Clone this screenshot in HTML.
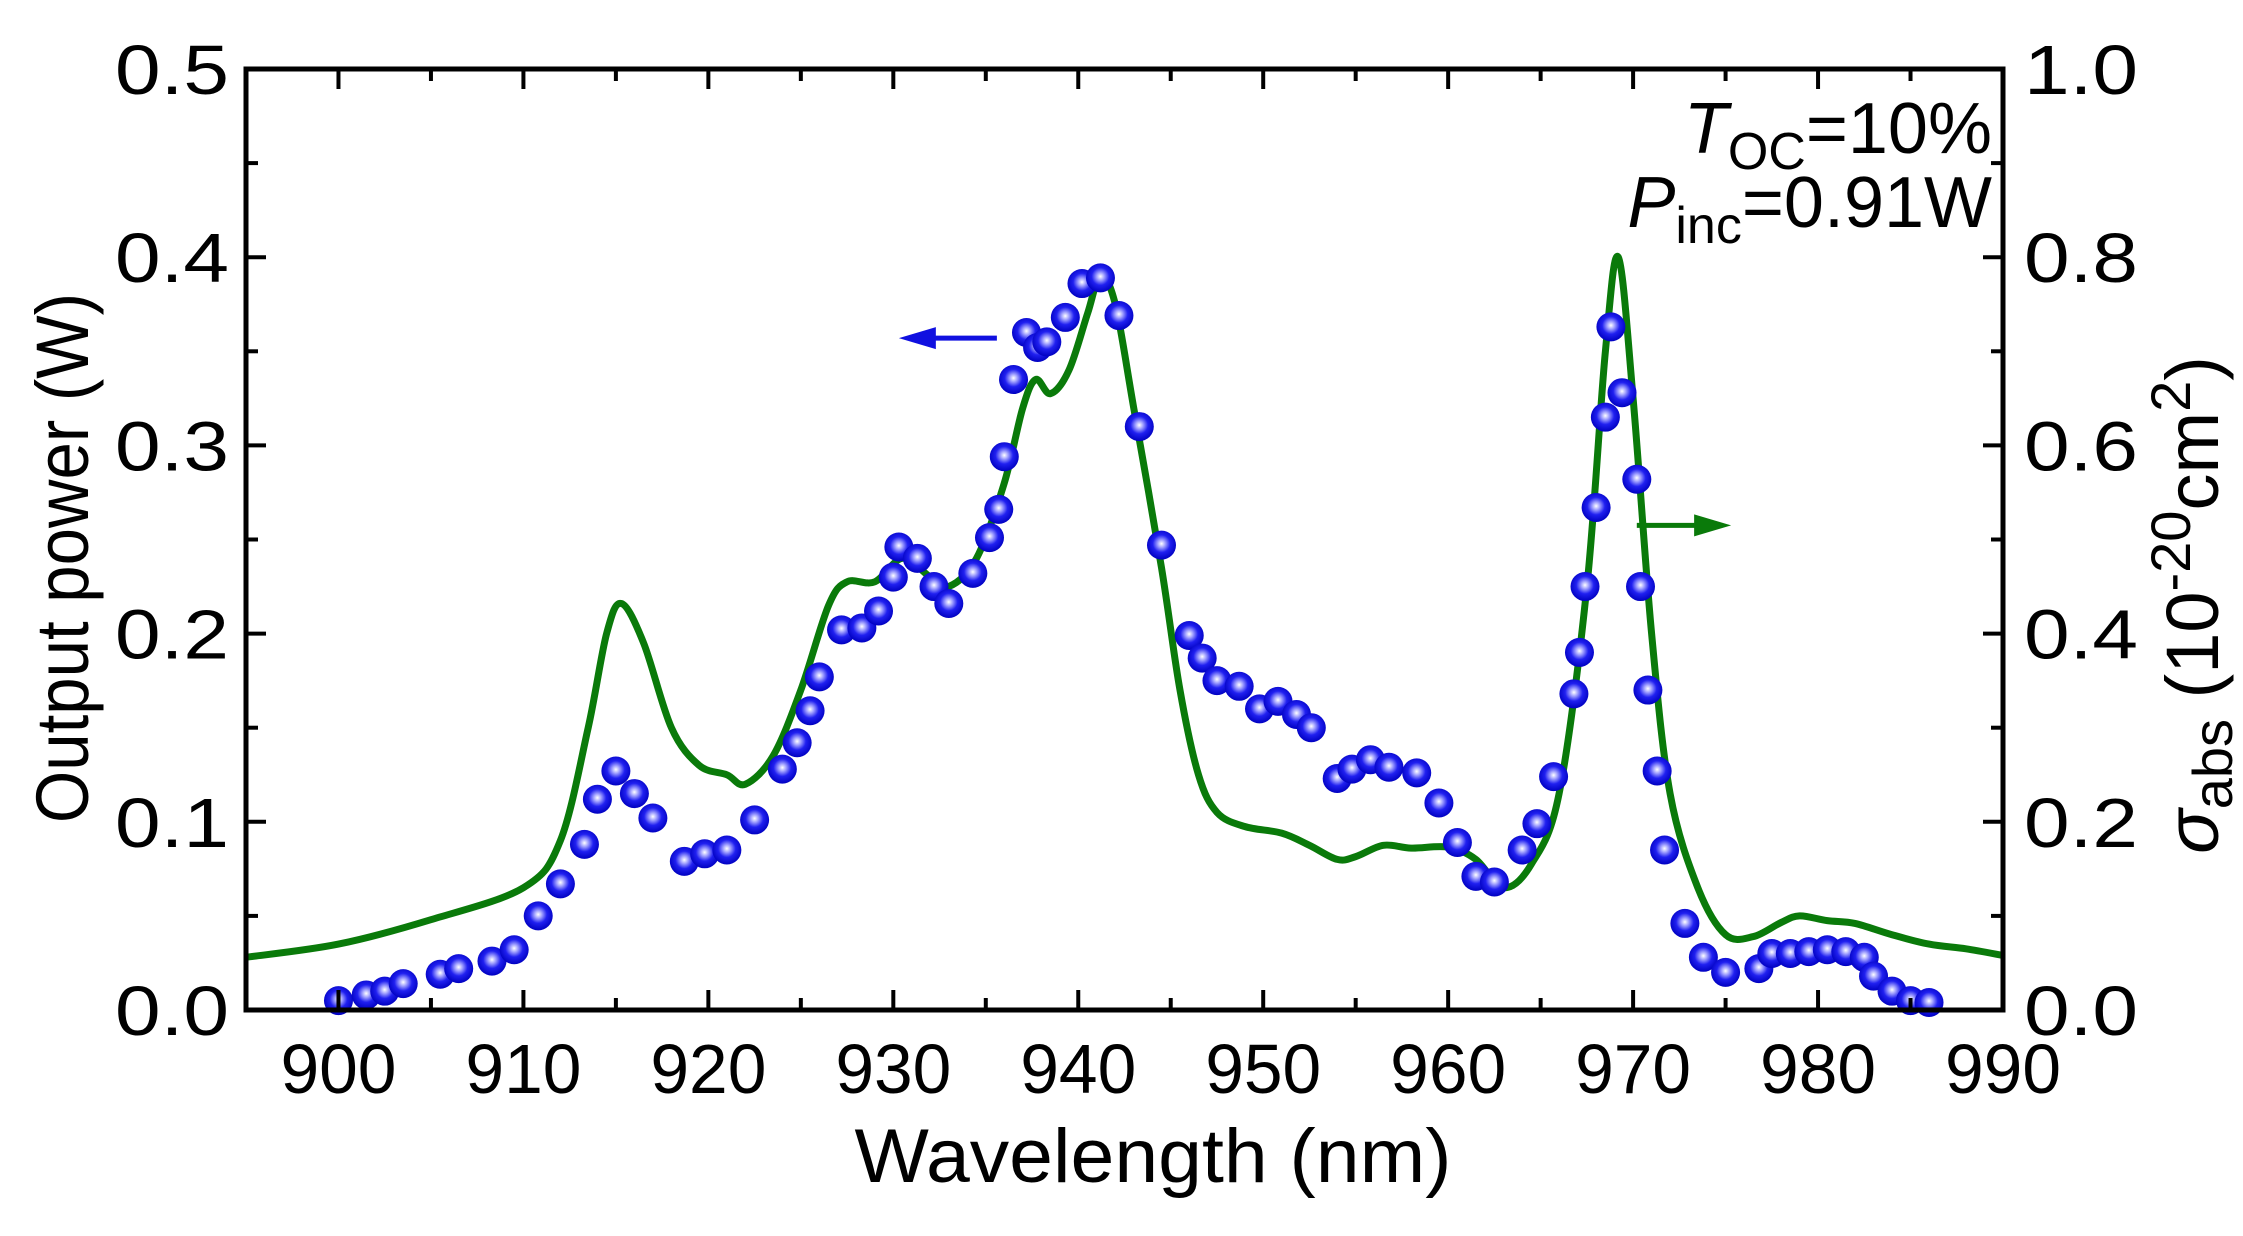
<!DOCTYPE html>
<html><head><meta charset="utf-8"><style>
html,body{margin:0;padding:0;background:#fff}
svg{display:block;font-family:"Liberation Sans",Arial,sans-serif}
</style></head><body>
<svg id="chart" width="2243" height="1236" viewBox="0 0 2243 1236" xmlns="http://www.w3.org/2000/svg">
<defs>
<radialGradient id="ball" cx="0.5" cy="0.45" r="0.55">
<stop offset="0" stop-color="#ffffff"/>
<stop offset="0.22" stop-color="#a8a8ff"/>
<stop offset="0.55" stop-color="#2020f0"/>
<stop offset="1" stop-color="#0000c0"/>
</radialGradient>
</defs>
<g id="plot"></g>
<g id="axes"></g>
<text x="1992" y="153" font-size="72" text-anchor="end"><tspan font-style="italic">T</tspan><tspan font-size="52" dy="16">OC</tspan><tspan dy="-16">=10%</tspan></text>
<text x="1992" y="227" font-size="72" text-anchor="end"><tspan font-style="italic">P</tspan><tspan font-size="52" dy="16">inc</tspan><tspan dy="-16">=0.91W</tspan></text>
<text x="1153" y="1182" font-size="76" text-anchor="middle" textLength="597" lengthAdjust="spacingAndGlyphs">Wavelength (nm)</text>
<text transform="translate(88,558) rotate(-90)" font-size="74" text-anchor="middle" textLength="530" lengthAdjust="spacingAndGlyphs">Output power (W)</text>
<text transform="translate(2218,605) rotate(-90)" font-size="74" text-anchor="middle"><tspan font-style="italic">σ</tspan><tspan font-size="56" dy="14">abs</tspan><tspan dy="-14"> (10</tspan><tspan font-size="56" dy="-28">-20</tspan><tspan dy="28">cm</tspan><tspan font-size="56" dy="-28">2</tspan><tspan dy="28">)</tspan></text>
</svg>
<script>
const dotWl=[900,901.5,902.5,903.5,905.5,906.5,908.3,909.5,910.8,912,913.3,914,915,916,917,918.7,919.8,921,922.5,924,924.8,925.5,926,927.2,928.3,929.2,930,930.3,931.3,932.2,933,934.3,935.2,935.7,936,936.5,937.2,937.8,938.3,939.3,940.2,941.2,942.2,943.3,944.5,946,946.7,947.5,948.7,949.8,950.8,951.8,952.6,954,954.8,955.8,956.8,958.3,959.5,960.5,961.5,962.5,964,964.8,965.7,966.8,967.1,967.4,968,968.5,968.8,969.4,970.2,970.4,970.8,971.3,971.7,972.8,973.8,975,976.8,977.5,978.5,979.5,980.5,981.5,982.5,983,984,985,986];
const dotPower=[0.005,0.008,0.01,0.014,0.019,0.022,0.026,0.032,0.05,0.067,0.088,0.112,0.127,0.115,0.102,0.079,0.083,0.085,0.101,0.128,0.142,0.159,0.177,0.202,0.203,0.212,0.23,0.246,0.24,0.225,0.216,0.232,0.251,0.266,0.294,0.335,0.36,0.352,0.355,0.368,0.386,0.389,0.369,0.31,0.247,0.199,0.187,0.175,0.172,0.16,0.164,0.157,0.15,0.123,0.128,0.133,0.129,0.126,0.11,0.089,0.071,0.068,0.085,0.099,0.124,0.168,0.19,0.225,0.267,0.315,0.363,0.328,0.282,0.225,0.17,0.127,0.085,0.046,0.028,0.02,0.022,0.03,0.03,0.031,0.032,0.031,0.028,0.018,0.01,0.005,0.004];
const lineWl=[895,900,905,910,912,913.5,914.5,915.3,916.5,918,919.5,921,922,923.5,925,926.5,927.5,929,930.5,932,933,934.5,936,937,937.7,938.5,939.5,940.5,941.2,942,943,944.5,945.5,946.5,947.5,949,951,952.5,954,955,956.5,958,960,961.5,963,964.5,966,967.5,968.5,969.2,970,971,972,973.5,975,976.5,978,979,980.5,982,984,986,988,990];
const lineSigma=[0.056,0.07,0.096,0.13,0.18,0.3,0.4,0.432,0.39,0.3,0.26,0.25,0.24,0.27,0.34,0.43,0.455,0.455,0.48,0.46,0.45,0.48,0.56,0.64,0.67,0.655,0.68,0.74,0.78,0.75,0.64,0.47,0.34,0.25,0.21,0.195,0.188,0.175,0.16,0.163,0.175,0.172,0.173,0.16,0.13,0.155,0.23,0.45,0.7,0.8,0.65,0.4,0.23,0.13,0.08,0.078,0.093,0.1,0.095,0.092,0.08,0.07,0.065,0.058];
const xTicks=[900,910,920,930,940,950,960,970,980,990];
const yLeftTicks=[0.0,0.1,0.2,0.3,0.4,0.5];
const yRightTicks=[0.0,0.2,0.4,0.6,0.8,1.0];

const L=246,R=2003,T=69,B=1010,X0=895,X1=990;
const sx=v=>L+(v-X0)/(X1-X0)*(R-L);
const syL=v=>B-v/0.5*(B-T);
const syR=v=>B-v/1.0*(B-T);
const NS="http://www.w3.org/2000/svg";
const plot=document.getElementById('plot'), axes=document.getElementById('axes');
function mk(tag,attrs,parent){const e=document.createElementNS(NS,tag);for(const k in attrs)e.setAttribute(k,attrs[k]);parent.appendChild(e);return e;}

// line (Catmull-Rom smoothed)
const pts=lineWl.map((w,i)=>[sx(w),syR(lineSigma[i])]);
let d='M'+pts[0][0].toFixed(1)+','+pts[0][1].toFixed(1);
for(let i=0;i<pts.length-1;i++){
  const p0=pts[Math.max(0,i-1)],p1=pts[i],p2=pts[i+1],p3=pts[Math.min(pts.length-1,i+2)];
  const t=1/6;
  const c1=[p1[0]+(p2[0]-p0[0])*t,p1[1]+(p2[1]-p0[1])*t];
  const c2=[p2[0]-(p3[0]-p1[0])*t,p2[1]-(p3[1]-p1[1])*t];
  d+=` C${c1[0].toFixed(1)},${c1[1].toFixed(1)} ${c2[0].toFixed(1)},${c2[1].toFixed(1)} ${p2[0].toFixed(1)},${p2[1].toFixed(1)}`;
}
const ln=mk('path',{d:d,fill:'none',stroke:'#0a7a0a','stroke-width':7,'stroke-linejoin':'round'},plot);


// dots
dotWl.forEach((w,i)=>{
  const c=mk('circle',{cx:sx(w),cy:syL(dotPower[i]),r:14.5,fill:'url(#ball)'},plot);
  
  
});
// arrows
const ab=mk('g',{},plot);


mk('line',{x1:sx(935.6),y1:syL(0.357),x2:sx(931.8),y2:syL(0.357),stroke:'#1010e0','stroke-width':5},ab);
mk('polygon',{points:`${sx(930.3)},${syL(0.357)} ${sx(932.3)},${syL(0.357)-11} ${sx(932.3)},${syL(0.357)+11}`,fill:'#1010e0'},ab);
const ag=mk('g',{},plot);


mk('line',{x1:sx(970.2),y1:syR(0.515),x2:sx(973.8),y2:syR(0.515),stroke:'#0a7a0a','stroke-width':5},ag);
mk('polygon',{points:`${sx(975.3)},${syR(0.515)} ${sx(973.3)},${syR(0.515)-11} ${sx(973.3)},${syR(0.515)+11}`,fill:'#0a7a0a'},ag);

// frame
const fr=mk('rect',{x:L,y:T,width:R-L,height:B-T,fill:'none',stroke:'#000','stroke-width':5},axes);


for(let v=895;v<=990;v+=5){
  const x=sx(v), maj=v%10===0, len=maj?20:12;
  mk('line',{x1:x,y1:B,x2:x,y2:B-len,stroke:'#000','stroke-width':4},axes);
  mk('line',{x1:x,y1:T,x2:x,y2:T+len,stroke:'#000','stroke-width':4},axes);
}
xTicks.forEach(v=>{
  const t=mk('text',{x:sx(v),y:1093,'font-size':70,'text-anchor':'middle',textLength:116,lengthAdjust:'spacingAndGlyphs'},axes);
  t.textContent=String(v);
  
  
});
for(let i=0;i<=10;i++){
  const v=i*0.05, y=syL(v), len=i%2===0?20:12;
  mk('line',{x1:L,y1:y,x2:L+len,y2:y,stroke:'#000','stroke-width':4},axes);
  mk('line',{x1:R,y1:y,x2:R-len,y2:y,stroke:'#000','stroke-width':4},axes);
}
yLeftTicks.forEach(v=>{
  const t=mk('text',{x:229,y:syL(v)+25,'font-size':70,'text-anchor':'end',textLength:114,lengthAdjust:'spacingAndGlyphs'},axes);
  t.textContent=v.toFixed(1);
  
  
});
yRightTicks.forEach(v=>{
  const t=mk('text',{x:2024,y:syR(v)+25,'font-size':70,'text-anchor':'start',textLength:114,lengthAdjust:'spacingAndGlyphs'},axes);
  t.textContent=v.toFixed(1);
  
  
});
</script>
</body></html>
